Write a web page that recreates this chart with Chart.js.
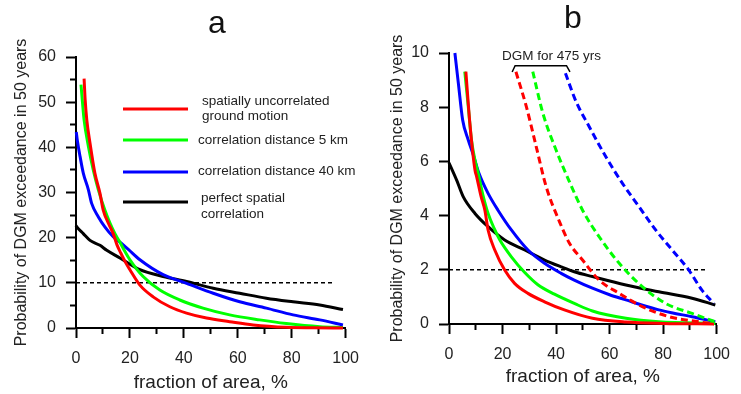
<!DOCTYPE html>
<html>
<head>
<meta charset="utf-8">
<script src="https://cdn.jsdelivr.net/npm/chart.js@4.4.0/dist/chart.umd.min.js"></script>
<style>
  html, body { margin: 0; padding: 0; background: #fff; }
  #wrap { position: relative; width: 741px; height: 394px; }
  #chartA { position: absolute; left: 0; top: 0; }
  #chartB { position: absolute; left: 370px; top: 0; }
</style>
</head>
<body>
<div id="wrap">
  <canvas id="chartA" width="370" height="394"></canvas>
  <canvas id="chartB" width="371" height="394"></canvas>
</div>
<script>
// panel a - probability (%) vs fraction of area (%)
const aRedX = [3.0, 3.4, 4.0, 5.2, 7.0, 8.9, 10.1, 12.0, 13.8, 15.2, 16.6, 18.2, 20.0, 23.7, 28.6, 34.8, 41.0, 48.4, 57.0, 65.7, 78.0, 88.0, 99.0];
const aRedY = [55.2, 50.5, 46.1, 40.9, 34.3, 29.8, 26.1, 23.2, 20.9, 18.4, 16.6, 14.7, 12.9, 9.5, 6.9, 4.7, 3.3, 2.2, 1.4, 0.67, 0.15, 0.05, 0.0];
const aGreenX = [1.85, 2.4, 3.0, 4.6, 6.4, 8.3, 10.7, 12.6, 14.5, 16.3, 18.0, 20.0, 24.9, 31.1, 38.5, 47.1, 57.0, 68.1, 78.0, 90.4, 99.0];
const aGreenY = [53.9, 50.0, 46.1, 40.2, 35.0, 30.6, 26.1, 23.2, 20.8, 19.0, 17.1, 15.1, 11.4, 8.4, 6.2, 4.4, 2.9, 1.8, 1.0, 0.3, 0.1];
const aBlueX = [0.1, 0.5, 1.5, 2.7, 4.6, 5.8, 8.3, 10.7, 13.8, 16.3, 19.4, 23.7, 32.3, 41.0, 50.9, 60.7, 70.6, 80.5, 90.4, 99.0];
const aBlueY = [43.4, 41.5, 38.0, 34.3, 30.6, 27.6, 24.6, 22.4, 20.2, 19.0, 17.4, 15.1, 11.8, 9.9, 7.7, 5.8, 4.4, 2.9, 1.8, 0.67];
const aBlackX = [0, 0.3, 2.7, 5.2, 8.9, 11.4, 16.3, 23.7, 32.3, 41.0, 50.9, 60.7, 70.6, 80.5, 90.4, 99.0];
const aBlackY = [22.7, 22.4, 20.9, 19.4, 18.3, 17.2, 15.5, 12.9, 11.4, 10.3, 8.8, 7.7, 6.6, 5.8, 5.1, 4.1];
const aRefX = [0, 95.3];
const aRefY = [10, 10];

// panel b - zoom of the lower part, plus the 475 yrs DGM curves (dashed)
const bRedX = [6.3, 7.8, 9.7, 10.3, 12.0, 13.4, 14.6, 17.1, 20.8, 24.5, 29.5, 35.7, 43.1, 53.6, 66.1, 80.0, 99.0];
const bRedY = [9.31, 7.4, 5.68, 5.45, 4.7, 4.2, 3.47, 2.73, 1.99, 1.5, 1.13, 0.82, 0.52, 0.21, 0.07, 0.02, 0.0];
const bGreenX = [5.9, 7.2, 8.4, 9.7, 10.9, 12.7, 14.6, 17.0, 19.0, 23.3, 28.3, 33.2, 39.4, 46.8, 53.6, 66.1, 78.4, 99.5];
const bGreenY = [9.31, 8.02, 6.79, 6.05, 5.56, 4.75, 4.08, 3.5, 3.1, 2.48, 1.9, 1.45, 1.1, 0.76, 0.48, 0.21, 0.08, 0.02];
const bBlueX = [2.2, 3.5, 5.1, 7.2, 9.2, 11.2, 14.6, 18.3, 23.3, 29.5, 35.7, 41.9, 46.8, 53.6, 60.0, 66.1, 72.0, 78.4, 84.0, 90.8, 99.5];
const bBlueY = [10.0, 8.88, 7.53, 6.79, 6.2, 5.56, 4.82, 4.2, 3.47, 2.73, 2.24, 1.87, 1.62, 1.32, 1.08, 0.89, 0.7, 0.52, 0.4, 0.27, 0.08];
const bBlackX = [0, 2.9, 5.3, 9.7, 14.6, 20.8, 28.3, 35.7, 41.9, 46.8, 53.6, 66.1, 78.4, 90.8, 99.5];
const bBlackY = [5.95, 5.3, 4.7, 4.08, 3.59, 3.1, 2.73, 2.36, 2.11, 1.93, 1.75, 1.44, 1.19, 0.95, 0.7];
const bRedDashX = [25.0, 28.9, 32.6, 36.3, 41.3, 45.0, 49.9, 56.1, 63.6, 72.2, 82.2, 93.3, 99.0];
const bRedDashY = [9.31, 8.02, 6.54, 5.07, 3.77, 2.98, 2.36, 1.62, 1.13, 0.64, 0.27, 0.08, 0.0];
const bGreenDashX = [31.3, 35.1, 40.0, 45.0, 49.9, 56.1, 63.6, 72.2, 80.9, 90.8, 99.5];
const bGreenDashY = [9.31, 7.77, 6.42, 5.25, 4.2, 3.22, 2.24, 1.38, 0.76, 0.39, 0.08];
const bBlueDashX = [43.5, 47.5, 52.4, 58.6, 64.8, 71.0, 77.2, 83.4, 89.6, 94.5, 98.9];
const bBlueDashY = [9.25, 8.2, 7.28, 6.17, 5.19, 4.33, 3.47, 2.73, 1.99, 1.25, 0.76];
const bRefX = [0, 95.8];
const bRefY = [2, 2];

// bracket over the dashed curves: x ends / hooks, y hook bottom / top
const bracketX = [23.6, 24.7, 43.9, 45.2];
const bracketY = [9.3, 9.53];

const legendLabels = [
    ['spatially uncorrelated', 'ground motion'],
    ['correlation distance 5 km'],
    ['correlation distance 40 km'],
    ['perfect spatial', 'correlation']
];

const FONT = '"Liberation Sans", Arial, sans-serif';
const RED = '#ff0000', GREEN = '#00ff00', BLUE = '#0000ff', BLACK = '#000000';

Chart.defaults.font.family = FONT;
Chart.defaults.color = '#222';

function pts(xs, ys) {
    return xs.map((x, i) => ({ x: x, y: ys[i] }));
}

function curve(label, xs, ys, color, dash) {
    return {
        label: label,
        data: pts(xs, ys),
        borderColor: color,
        borderWidth: 3,
        borderDash: dash || [],
        pointRadius: 0,
        fill: false,
        cubicInterpolationMode: 'monotone',
        clip: false
    };
}

function refLine(xs, ys) {
    return {
        label: 'ref',
        data: pts(xs, ys),
        borderColor: BLACK,
        borderWidth: 1.5,
        borderDash: [4, 3],
        pointRadius: 0,
        fill: false,
        clip: false
    };
}

function getScales(o) {
    return {
        x: {
            type: 'linear', min: 0, max: 100,
            afterFit: s => { s.height = o.xHeight; },
            border: { color: BLACK, width: 2 },
            grid: {
                drawOnChartArea: false, tickLength: 10, tickColor: BLACK, tickWidth: 2,
                tickBorderDash: c => (c.tick && c.tick.value % 20) ? [5, 40] : []
            },
            ticks: {
                stepSize: 10, autoSkip: false, maxRotation: 0, padding: 11,
                font: { size: 16 }, color: '#222',
                callback: v => (v % 20 === 0 ? v : '')
            },
            title: {
                display: true, text: 'fraction of area, %', color: '#222',
                font: { size: 19 }, padding: { top: 0, bottom: o.xTitlePad }
            }
        },
        y: {
            type: 'linear', min: 0, max: o.yMax,
            afterFit: s => { s.width = o.yWidth; },
            border: { color: BLACK, width: 2 },
            grid: {
                drawOnChartArea: false, tickLength: 10, tickColor: BLACK, tickWidth: 2,
                tickBorderDash: c => (c.tick && c.tick.value % o.yLabelStep) ? [0, 4, 6, 40] : []
            },
            ticks: {
                stepSize: o.yStep, autoSkip: false, padding: 10,
                font: { size: 16 }, color: '#222',
                callback: v => (v % o.yLabelStep === 0 ? v : '')
            },
            title: {
                display: true, text: 'Probability of DGM exceedance in 50 years', color: '#222',
                font: { size: 16 }, padding: { top: o.yTitlePad, bottom: 0 }
            }
        }
    };
}

const baseOptions = {
    responsive: false,
    animation: false,
    plugins: { legend: { display: false }, tooltip: { enabled: false } }
};

// panel a letter + legend
const decorA = {
    id: 'decorA',
    afterDraw(chart) {
        const ctx = chart.ctx;
        ctx.save();
        ctx.fillStyle = '#111';
        ctx.font = '32px ' + FONT;
        ctx.textAlign = 'center';
        ctx.textBaseline = 'alphabetic';
        ctx.fillText('a', 217, 33);

        const colors = [RED, GREEN, BLUE, BLACK];
        const lineY = [109, 140, 172, 202];
        const textY = [[101.5, 116.5], [140], [171], [198.5, 214]];
        const textX = [202, 198, 198, 201];
        ctx.lineWidth = 3;
        ctx.font = '13.5px ' + FONT;
        ctx.textAlign = 'left';
        ctx.textBaseline = 'middle';
        legendLabels.forEach((lines, i) => {
            ctx.strokeStyle = colors[i];
            ctx.beginPath();
            ctx.moveTo(123, lineY[i]);
            ctx.lineTo(188, lineY[i]);
            ctx.stroke();
            ctx.fillStyle = '#222';
            lines.forEach((t, j) => ctx.fillText(t, textX[i], textY[i][j]));
        });
        ctx.restore();
    }
};

// panel b letter + "DGM for 475 yrs" bracket
const decorB = {
    id: 'decorB',
    afterDraw(chart) {
        const ctx = chart.ctx;
        const sx = chart.scales.x, sy = chart.scales.y;
        ctx.save();
        ctx.fillStyle = '#111';
        ctx.font = '32px ' + FONT;
        ctx.textAlign = 'center';
        ctx.textBaseline = 'alphabetic';
        ctx.fillText('b', 203, 28);

        ctx.strokeStyle = BLACK;
        ctx.lineWidth = 1.5;
        ctx.beginPath();
        ctx.moveTo(sx.getPixelForValue(bracketX[0]), sy.getPixelForValue(bracketY[0]));
        ctx.lineTo(sx.getPixelForValue(bracketX[1]), sy.getPixelForValue(bracketY[1]));
        ctx.lineTo(sx.getPixelForValue(bracketX[2]), sy.getPixelForValue(bracketY[1]));
        ctx.lineTo(sx.getPixelForValue(bracketX[3]), sy.getPixelForValue(bracketY[0]));
        ctx.stroke();

        ctx.fillStyle = '#222';
        ctx.font = '13.5px ' + FONT;
        ctx.textBaseline = 'middle';
        ctx.fillText('DGM for 475 yrs', sx.getPixelForValue(38.3), sy.getPixelForValue(9.89));
        ctx.restore();
    }
};

new Chart(document.getElementById('chartA').getContext('2d'), {
    type: 'line',
    data: {
        datasets: [
            curve(legendLabels[0].join(' '), aRedX, aRedY, RED),
            curve(legendLabels[1][0], aGreenX, aGreenY, GREEN),
            curve(legendLabels[2][0], aBlueX, aBlueY, BLUE),
            curve(legendLabels[3].join(' '), aBlackX, aBlackY, BLACK),
            refLine(aRefX, aRefY)
        ]
    },
    options: Object.assign({}, baseOptions, {
        layout: { padding: { left: 0, right: 24, top: 57, bottom: 0 } },
        scales: getScales({ xHeight: 66, xTitlePad: 0, yWidth: 76, yTitlePad: 12, yMax: 60, yStep: 5, yLabelStep: 10 })
    }),
    plugins: [decorA]
});

new Chart(document.getElementById('chartB').getContext('2d'), {
    type: 'line',
    data: {
        datasets: [
            curve('uncorrelated 475 yrs', bRedDashX, bRedDashY, RED, [7, 4]),
            curve('5 km 475 yrs', bGreenDashX, bGreenDashY, GREEN, [7, 4]),
            curve('40 km 475 yrs', bBlueDashX, bBlueDashY, BLUE, [7, 4]),
            curve(legendLabels[0].join(' '), bRedX, bRedY, RED),
            curve(legendLabels[1][0], bGreenX, bGreenY, GREEN),
            curve(legendLabels[2][0], bBlueX, bBlueY, BLUE),
            curve(legendLabels[3].join(' '), bBlackX, bBlackY, BLACK),
            refLine(bRefX, bRefY)
        ]
    },
    options: Object.assign({}, baseOptions, {
        layout: { padding: { left: 0, right: 23, top: 53, bottom: 0 } },
        scales: getScales({ xHeight: 70, xTitlePad: 5.6, yWidth: 79, yTitlePad: 18, yMax: 10, yStep: 2, yLabelStep: 2 })
    }),
    plugins: [decorB]
});
</script>
</body>
</html>
